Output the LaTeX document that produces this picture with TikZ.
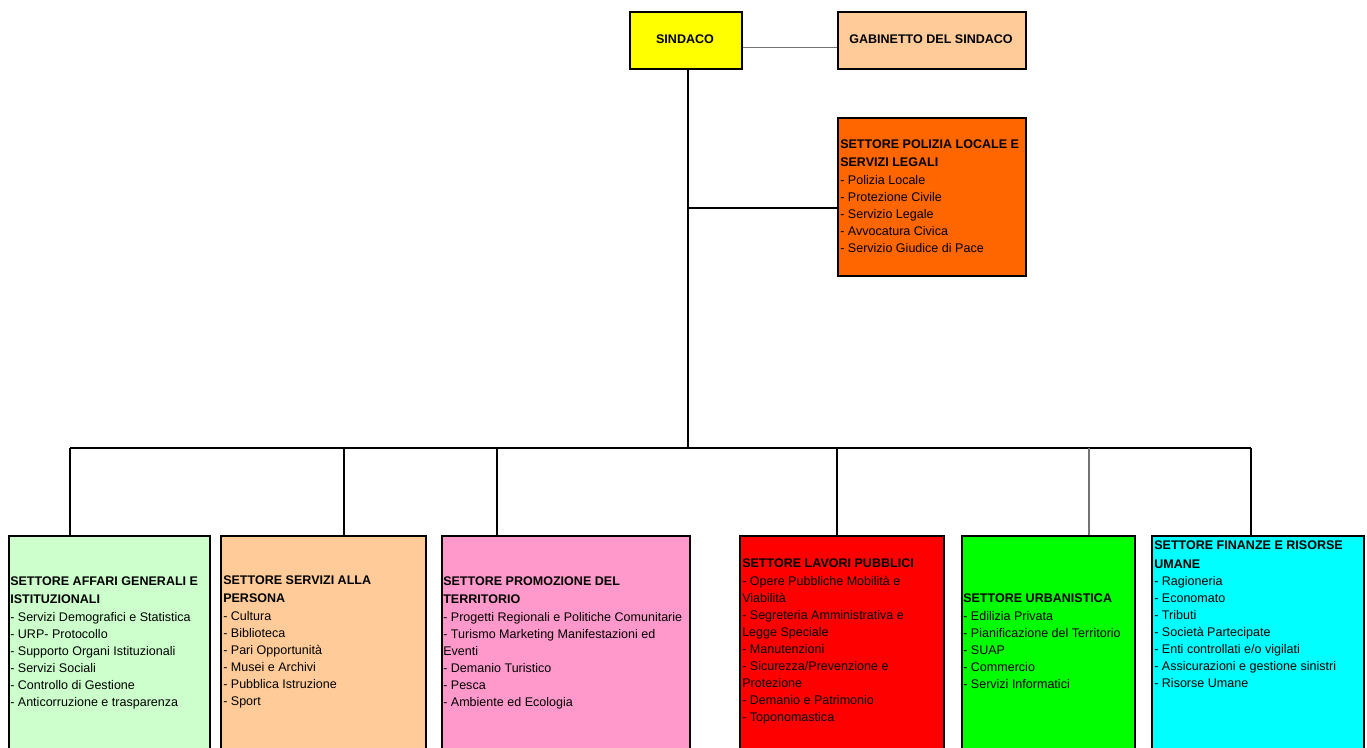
\documentclass[tikz,border=0pt]{standalone}
\usepackage{fontspec}
\setmainfont{Liberation Sans}
\definecolor{cYellow}{HTML}{FFFF00}
\definecolor{cPeach}{HTML}{FFCC99}
\definecolor{cOrange}{HTML}{FF6600}
\definecolor{cLGreen}{HTML}{CCFFCC}
\definecolor{cPink}{HTML}{FF99CC}
\definecolor{cRed}{HTML}{FF0000}
\definecolor{cGreen}{HTML}{00FF00}
\definecolor{cCyan}{HTML}{00FFFF}
\tikzset{
  box/.style={draw=black, line width=1.2pt, rectangle, inner sep=0pt, anchor=north west},
  txt/.style={anchor=north west, inner sep=0pt, align=left, font=\fontsize{9.4}{12.75}\selectfont},
  ttl/.style={inner sep=0pt, font=\fontsize{9.4}{12.75}\selectfont\bfseries},
  conn/.style={draw=black, line width=1.1pt},
  connlight/.style={draw=black!55, line width=0.8pt}
}
\begin{document}
\begin{tikzpicture}[x=0.75pt, y=-0.75pt]
% top boxes
\node[box, fill=cYellow, minimum width=84pt, minimum height=42.75pt] (sindaco) at (629,11) {};
\node[ttl] (sindacoT) at (685,39.5) {SINDACO};
\node[box, fill=cPeach, minimum width=141pt, minimum height=42.75pt] (gab) at (837,11) {};
\node[ttl] (gabT) at (931,39.5) {GABINETTO DEL SINDACO};
\node[box, fill=cOrange, minimum width=141pt, minimum height=118.5pt] (pol) at (837,117) {};
\node[txt] (polT) at (840,139.5) {\textbf{SETTORE POLIZIA LOCALE E}\\[1pt]\textbf{SERVIZI LEGALI}\\[0.5pt]
- Polizia Locale\\- Protezione Civile\\- Servizio Legale\\- Avvocatura Civica\\- Servizio Giudice di Pace};
% bottom boxes
\node[box, fill=cLGreen, minimum width=150.75pt, minimum height=162.75pt] (b1) at (8,535) {};
\node[box, fill=cPeach, minimum width=153.75pt, minimum height=162.75pt] (b2) at (220,535) {};
\node[box, fill=cPink, minimum width=186pt, minimum height=162.75pt] (b3) at (441,535) {};
\node[box, fill=cRed, minimum width=153pt, minimum height=162.75pt] (b4) at (739,535) {};
\node[box, fill=cGreen, minimum width=129.75pt, minimum height=162.75pt] (b5) at (961,535) {};
\node[box, fill=cCyan, minimum width=159pt, minimum height=162.75pt] (b6) at (1151,535) {};
\node[txt] (t1) at (10,576) {\textbf{SETTORE AFFARI GENERALI E}\\[1pt]\textbf{ISTITUZIONALI}\\[0.5pt]
- Servizi Demografici e Statistica\\- URP- Protocollo\\- Supporto Organi Istituzionali\\- Servizi Sociali\\- Controllo di Gestione\\- Anticorruzione e trasparenza};
\node[txt] (t2) at (223,575) {\textbf{SETTORE SERVIZI ALLA}\\[1pt]\textbf{PERSONA}\\[0.5pt]
- Cultura\\- Biblioteca\\- Pari Opportunità\\- Musei e Archivi\\- Pubblica Istruzione\\- Sport};
\node[txt] (t3) at (443,576) {\textbf{SETTORE PROMOZIONE DEL}\\[1pt]\textbf{TERRITORIO}\\[0.5pt]
- Progetti Regionali e Politiche Comunitarie\\- Turismo Marketing Manifestazioni ed\\Eventi\\- Demanio Turistico\\- Pesca\\- Ambiente ed Ecologia};
\node[txt] (t4) at (742,558.5) {\textbf{SETTORE LAVORI PUBBLICI}\\[1pt]
- Opere Pubbliche Mobilità e\\Viabilità\\- Segreteria Amministrativa e\\Legge Speciale\\- Manutenzioni\\- Sicurezza/Prevenzione e\\Protezione\\- Demanio e Patrimonio\\- Toponomastica};
\node[txt] (t5) at (963,593.5) {\textbf{SETTORE URBANISTICA}\\[0.5pt]
- Edilizia Privata\\- Pianificazione del Territorio\\- SUAP\\- Commercio\\- Servizi Informatici};
\node[txt] (t6) at (1154,540.5) {\textbf{SETTORE FINANZE E RISORSE}\\[1.3pt]\textbf{UMANE}\\[0.3pt]
- Ragioneria\\- Economato\\- Tributi\\- Società Partecipate\\- Enti controllati e/o vigilati\\- Assicurazioni e gestione sinistri\\- Risorse Umane};
% connector coordinates
\coordinate (bus) at (688,448);
\coordinate (pj) at (688,208);
\coordinate (c1) at (70,448);
\coordinate (c2) at (344,448);
\coordinate (c3) at (497,448);
\coordinate (c4) at (837,448);
\coordinate (c5) at (1089,448);
\coordinate (c6) at (1251,448);
% connectors
\draw[connlight] ([yshift=-5.6pt]sindaco.east) -- ([yshift=-5.6pt]gab.west);
\draw[conn] (sindaco.south -| bus) -- (bus);
\draw[conn] (pj) -- (pol.west |- pj);
\draw[conn] (c1) -- (c6);
\draw[conn] (c1) -- (c1 |- b1.north);
\draw[conn] (c2) -- (c2 |- b2.north);
\draw[conn] (c3) -- (c3 |- b3.north);
\draw[conn] (c4) -- (c4 |- b4.north);
\draw[connlight] (c5) -- (c5 |- b5.north);
\draw[conn] (c6) -- (c6 |- b6.north);
\pgfresetboundingbox
\path[use as bounding box] (0,0) rectangle (1367,747);
\end{tikzpicture}
\end{document}
